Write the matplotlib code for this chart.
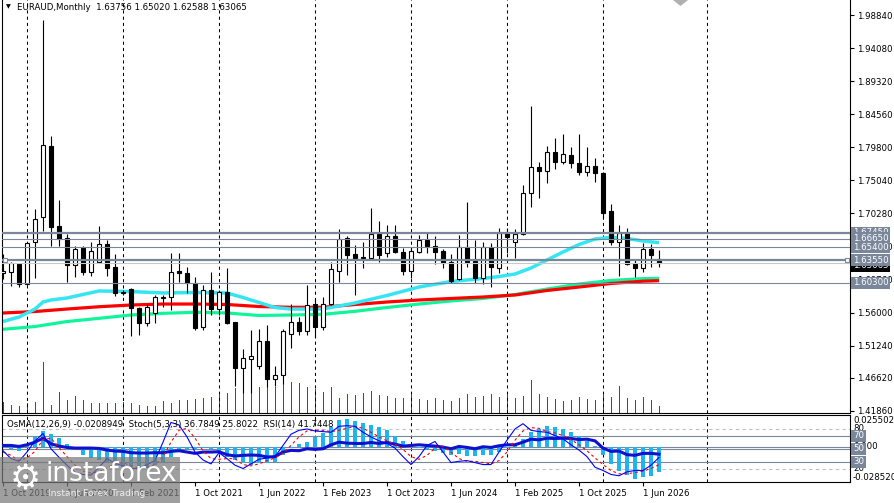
import matplotlib
matplotlib.use("Agg")
import matplotlib.pyplot as plt
import numpy as np
from matplotlib.patches import Rectangle, Polygon
from matplotlib.transforms import blended_transform_factory as btf

plt.rcParams['font.family'] = ['DejaVu Sans']

# ---------------- data (monthly EURAUD) ----------------
opens = [1.6169, 1.6183, 1.6298, 1.6010, 1.6615, 1.6975, 1.7998, 1.6846, 1.6673, 1.6284,
         1.6529, 1.6183, 1.6327, 1.6586, 1.6255, 1.5895, 1.5938, 1.5665, 1.5449, 1.5593,
         1.5816, 1.5823, 1.6198, 1.6169, 1.6025, 1.5391, 1.5924, 1.5650, 1.5895, 1.5463,
         1.4801, 1.4930, 1.4830, 1.5190, 1.4642, 1.4700, 1.5290, 1.5463, 1.5334, 1.5722,
         1.5391, 1.5722, 1.6198, 1.6673, 1.6442, 1.6399, 1.6385, 1.6730, 1.6457, 1.6701,
         1.6471, 1.6198, 1.6471, 1.6644, 1.6558, 1.6486, 1.6327, 1.6082, 1.6543, 1.6342,
         1.6097, 1.6543, 1.6241, 1.6745, 1.6615, 1.6730, 1.7321, 1.7695, 1.7638, 1.7911,
         1.7767, 1.7868, 1.7753, 1.7623, 1.7710, 1.7609, 1.7062, 1.6615, 1.6745, 1.6313,
         1.6241, 1.6514, 1.63756]
highs = [1.6442, 1.6327, 1.6313, 1.6615, 1.7090, 1.9812, 1.8142, 1.7220, 1.6730, 1.6558,
         1.6558, 1.6615, 1.6846, 1.6644, 1.6442, 1.5924, 1.5953, 1.5679, 1.5722, 1.5852,
         1.5852, 1.6457, 1.6457, 1.6255, 1.6111, 1.5996, 1.6183, 1.5924, 1.6241, 1.5463,
         1.5074, 1.5348, 1.5362, 1.5420, 1.4830, 1.5362, 1.5722, 1.5535, 1.5996, 1.5809,
         1.5823, 1.6327, 1.6802, 1.6702, 1.6572, 1.6615, 1.7105, 1.6918, 1.6860, 1.6860,
         1.6529, 1.6543, 1.6716, 1.6745, 1.6702, 1.6514, 1.6442, 1.6716, 1.7191, 1.6644,
         1.6615, 1.6601, 1.6817, 1.6817, 1.6802, 1.7436, 1.8574, 1.7767, 1.7998, 1.8113,
         1.8170, 1.7983, 1.8170, 1.7983, 1.7825, 1.7623, 1.7162, 1.6860, 1.6817, 1.6356,
         1.6601, 1.6586, 1.65020]
lows = [1.6082, 1.5982, 1.5967, 1.5996, 1.6097, 1.6774, 1.6558, 1.6558, 1.6039, 1.6111,
        1.6140, 1.6126, 1.6313, 1.6126, 1.5838, 1.5852, 1.5262, 1.5276, 1.5406, 1.5449,
        1.5679, 1.5636, 1.6039, 1.5881, 1.5348, 1.5348, 1.5564, 1.5564, 1.5434, 1.4542,
        1.4441, 1.4441, 1.4786, 1.4527, 1.4542, 1.4570, 1.5089, 1.5276, 1.5276, 1.5247,
        1.5348, 1.5708, 1.6039, 1.6140, 1.5852, 1.6241, 1.6371, 1.6327, 1.6399, 1.6457,
        1.6140, 1.6097, 1.6457, 1.6457, 1.6298, 1.6241, 1.6025, 1.6068, 1.6255, 1.6025,
        1.6010, 1.5967, 1.6169, 1.6457, 1.6385, 1.6716, 1.7119, 1.7249, 1.7465, 1.7666,
        1.7738, 1.7681, 1.7580, 1.7566, 1.7479, 1.6961, 1.6572, 1.6126, 1.6284, 1.6111,
        1.6183, 1.6255, 1.62588]
closes = [1.6198, 1.6313, 1.6010, 1.6601, 1.6946, 1.8012, 1.6831, 1.6658, 1.6284, 1.6514,
          1.6183, 1.6486, 1.6586, 1.6241, 1.5881, 1.5881, 1.5665, 1.5449, 1.5679, 1.5823,
          1.5823, 1.6183, 1.6169, 1.6025, 1.5377, 1.5924, 1.5650, 1.5895, 1.5449, 1.4801,
          1.4945, 1.4974, 1.5190, 1.4642, 1.4700, 1.5334, 1.5463, 1.5334, 1.5708, 1.5391,
          1.5722, 1.6226, 1.6658, 1.6428, 1.6385, 1.6392, 1.6730, 1.6428, 1.6701, 1.6471,
          1.6198, 1.6486, 1.6644, 1.6558, 1.6471, 1.6313, 1.6054, 1.6543, 1.6327, 1.6097,
          1.6543, 1.6255, 1.6745, 1.6687, 1.6730, 1.7321, 1.7695, 1.7638, 1.7911, 1.7767,
          1.7882, 1.7753, 1.7623, 1.7710, 1.7609, 1.7033, 1.6615, 1.6745, 1.6298, 1.6241,
          1.6514, 1.6428, 1.63065]
volumes = [11300, 8000, 7000, 10300, 11300, 51300, 8000, 21300, 13000, 17000,
           13000, 10300, 10300, 10300, 10300, 11300, 9700, 8000, 7000, 7000,
           12000, 10300, 13000, 13000, 13700, 14700, 15700, 18000, 19700, 24700,
           23000, 28000, 26300, 26300, 25700, 30000, 31300, 30300, 25700, 23700,
           21300, 25700, 15300, 19000, 18000, 20300, 22300, 18000, 17300, 15300,
           15300, 18000, 14000, 13000, 15300, 13000, 12000, 15300, 19000, 16300,
           17000, 19000, 16300, 18000, 14700, 17000, 33000, 19000, 16300, 13700,
           12000, 13000, 15700, 13700, 13000, 18000, 16300, 27000, 14700, 13000,
           16300, 13000, 7000]

# moving averages (sampled from the chart)
cyan_idx = [0, 2, 4, 5, 6, 8, 12, 16, 20, 24, 28, 30, 32, 34, 36, 40, 42, 44, 48, 52,
            56, 60, 62, 64, 66, 68, 70, 72, 74, 76, 78, 80, 82]
cyan_val = [1.5470, 1.5535, 1.5650, 1.5751, 1.5780, 1.5809, 1.5910, 1.5902, 1.5881, 1.5888,
            1.5881, 1.5816, 1.5744, 1.5672, 1.5650, 1.5650, 1.5694, 1.5737, 1.5845, 1.5967,
            1.6046, 1.6090, 1.6118, 1.6154, 1.6241, 1.6356, 1.6471, 1.6579, 1.6658, 1.6683,
            1.6666, 1.6630, 1.6605]
ma_idx = [0, 4, 8, 12, 16, 20, 24, 28, 32, 36, 40, 44, 48, 52, 56, 60, 64, 68, 72, 76, 80, 82]
red_val = [1.5593, 1.5614, 1.5650, 1.5683, 1.5708, 1.5722, 1.5722, 1.5715, 1.5686, 1.5675,
           1.5675, 1.5715, 1.5751, 1.5780, 1.5802, 1.5823, 1.5852, 1.5917, 1.5967, 1.6018,
           1.6051, 1.6058]
green_val = [1.5358, 1.5398, 1.5470, 1.5516, 1.5564, 1.5588, 1.5603, 1.5593, 1.5557, 1.5564,
             1.5574, 1.5617, 1.5672, 1.5722, 1.5766, 1.5802, 1.5859, 1.5938, 1.6010, 1.6061,
             1.6088, 1.6092]

# oscillators
osma = [-0.001, -0.002, -0.003, 0.002, 0.008, 0.0128, 0.0108, 0.0073, 0.002, -0.001,
        -0.0066, -0.0094, -0.0107, -0.0124, -0.0148, -0.0164, -0.0172, -0.018, -0.0177, -0.0148,
        -0.0124, -0.0083, -0.0042, -0.002, -0.0015, -0.001, -0.002, -0.003, -0.0083, -0.011,
        -0.0135, -0.0145, -0.013, -0.013, -0.012, -0.0066, -0.0005, 0.002, 0.0043, 0.0084,
        0.011, 0.0165, 0.0221, 0.023, 0.021, 0.0195, 0.0183, 0.0163, 0.0137, 0.009,
        0.0047, 0.0013, -0.0005, -0.0015, -0.003, -0.005, -0.0068, -0.0055, -0.0072, -0.0078,
        -0.0065, -0.0065, -0.0038, -0.001, 0.0015, 0.0066, 0.0121, 0.0144, 0.0171, 0.0166,
        0.0147, 0.012, 0.0086, 0.0048, 0.001, -0.0066, -0.014, -0.020, -0.023, -0.026,
        -0.025, -0.0235, -0.0208949]
stoch_main = [47, 35, 31, 45, 62, 73, 50, 37, 25, 14,
              11, 10, 22, 35, 28, 24, 20, 20, 26, 32,
              60, 90, 86, 68, 45, 33, 27, 44, 35, 25,
              20, 27, 34, 36, 38, 55, 72, 78, 80, 77,
              76, 75, 84, 85, 84, 75, 68, 62, 58, 51,
              38, 26, 38, 55, 61, 45, 29, 31, 32, 29,
              26, 26, 45, 63, 80, 88, 78, 76, 75, 70,
              65, 56, 48, 38, 22, 17, 11, 9, 15, 17,
              17, 25, 36.7849]
stoch_signal = [45, 40, 32, 36, 46, 64, 66, 52, 38, 25,
                16, 13, 15, 21, 27, 29, 24, 21, 22, 26,
                38, 60, 78, 81, 66, 47, 35, 34, 35, 35,
                26, 24, 27, 32, 36, 43, 55, 68, 77, 78,
                78, 76, 78, 81, 84, 81, 75, 68, 62, 57,
                49, 38, 34, 40, 51, 54, 45, 35, 31, 31,
                29, 27, 32, 45, 63, 77, 82, 81, 76, 74,
                70, 64, 56, 47, 36, 26, 17, 12, 12, 14,
                16, 20, 25.8022]
rsi = [55, 55, 53.5, 56, 60, 66, 57.5, 54, 52, 51,
       51, 51, 50.5, 48, 46.5, 46, 44, 43.5, 43.5, 44,
       44, 46, 47, 45, 43, 45, 45, 45.5, 41, 39,
       40, 40.5, 40, 37.5, 38, 45, 47.5, 47, 50, 49,
       50, 56, 60, 58.5, 58, 58, 59.5, 58, 59.5, 57,
       54, 55, 56, 55, 54, 52.5, 50, 53.5, 52, 50,
       53, 52, 54.5, 56, 56, 60, 64.5, 63.5, 66, 65.5,
       66, 65.5, 64, 64.5, 62, 51, 46, 46.5, 41, 40,
       43, 43, 41.7448]

# horizontal levels and axis text
level_prices = [1.67450, 1.66650, 1.65400, 1.63550, 1.60300]
level_thick = [True, False, False, True, False]
price_ticks = [1.98840, 1.94080, 1.89320, 1.84560, 1.79800, 1.75040, 1.70280,
               1.65520, 1.60760, 1.56000, 1.51240, 1.46620, 1.41860]
date_idx = [0, 8, 16, 24, 32, 40, 48, 56, 64, 72, 80]
date_lbl = ["1 Oct 2019", "1 Jun 2020", "1 Feb 2021", "1 Oct 2021", "1 Jun 2022",
            "1 Feb 2023", "1 Oct 2023", "1 Jun 2024", "1 Feb 2025", "1 Oct 2025", "1 Jun 2026"]
year_sep_idx = [3, 15, 27, 39, 51, 63, 75, 88]

# ---------------- figure ----------------
W, H = 894, 503
fig = plt.figure(figsize=(W / 100, H / 100), dpi=100)
fig.patch.set_facecolor('white')


def rect(l, t, r, b):
    return [l / W, 1 - b / H, (r - l) / W, (b - t) / H]


main_r = rect(2, 0, 850, 413)
ind_r = rect(2, 415, 850, 482)
XL = (-0.125, 105.875)

axv = fig.add_axes(main_r)
ax = fig.add_axes(main_r)
axo = fig.add_axes(ind_r)
axi = fig.add_axes(ind_r)

for a in (axv, ax, axo, axi):
    a.set_xlim(*XL)
ax.set_ylim(1.41528, 2.0100)
axv.set_ylim(0, 413000)
axi.set_ylim(-0.46, 101.2)
axo.set_ylim(-0.02878, 0.02616)

ax.set_facecolor('none')
axi.set_facecolor('none')
axv.set_facecolor('white')
axo.set_facecolor('white')

for a in (axv, axo):
    a.set_xticks([]); a.set_yticks([])
    for s in a.spines.values():
        s.set_visible(False)

for a in (ax, axi):
    for s in a.spines.values():
        s.set_color('black'); s.set_linewidth(0.8)
ax.spines['top'].set_visible(False)

idx = np.arange(len(opens))
o = np.array(opens); c = np.array(closes)
hi = np.array(highs); lo = np.array(lows)

# volumes
axv.vlines(idx, 0, volumes, color='#008000', lw=0.55, antialiased=False)

# year separators
for s in year_sep_idx:
    ax.axvline(s, color='black', lw=0.75, ls=(0, (3, 3)), zorder=1)
    axo.axvline(s, color='black', lw=0.75, ls=(0, (3, 3)), zorder=1)

# moving averages
ax.plot(ma_idx, green_val, color='#10F59C', lw=2.3, zorder=2, solid_capstyle='butt')
ax.plot(ma_idx, red_val, color='#FF0000', lw=2.3, zorder=2.1, solid_capstyle='butt')
ax.plot(cyan_idx, cyan_val, color='#35E6F2', lw=2.5, zorder=2.2, solid_capstyle='butt')

# candles
ax.vlines(idx, lo, hi, color='black', lw=0.8, zorder=3)
up = c >= o
bottom = np.minimum(o, c)
height = np.maximum(np.abs(c - o), 0.0004)
ax.bar(idx, height, bottom=bottom, width=0.52, color=np.where(up, 'white', 'black'),
       edgecolor='black', linewidth=0.8, zorder=4)

# horizontal levels
for p, th in zip(level_prices, level_thick):
    ax.axhline(p, color='#7A8699', lw=1.6 if th else 0.8, zorder=5)
ax.axhline(closes[-1], color='#C8C8C8', lw=0.8, zorder=4.5)
ax.plot([0.003, 0.997], [level_prices[3]] * 2, transform=btf(ax.transAxes, ax.transData),
        marker='s', ms=3.4, mfc='white', mec='#7A8699', mew=0.8, ls='none', clip_on=False, zorder=6)

# y axis ticks
ax.yaxis.tick_right()
ax.set_yticks(price_ticks)
ax.set_yticklabels([f"{t:.5f}" for t in price_ticks])
ax.tick_params(axis='y', length=3, width=0.8, labelsize=6.2, pad=2, direction='out')
ax.tick_params(axis='x', bottom=False, labelbottom=False)

# indicator window
tr_lvl = btf(axo.transAxes, axi.transData)
for v in (80, 20):
    axo.plot([0, 1], [v, v], transform=tr_lvl, color='#C0C0C0', lw=0.8, ls=(0, (3, 3)), zorder=1)
for v in (70, 50, 30):
    axo.plot([0, 1], [v, v], transform=tr_lvl, color='#7A8699', lw=0.8, zorder=1)
axo.axhline(0, color='#7A8699', lw=0.8, zorder=1)
axo.bar(idx, osma, width=0.38, color='#1EB4F0', zorder=2)

axi.plot(idx, rsi, color='#1010D0', lw=2.2, zorder=3)
axi.plot(idx, stoch_signal, color='#FF0000', lw=0.8, ls=(0, (2.5, 2.5)), zorder=3)
axi.plot(idx, stoch_main, color='#0000FF', lw=0.8, zorder=3.1)

axi.tick_params(axis='y', left=False, right=False, labelleft=False)
axi.set_xticks(date_idx)
axi.set_xticklabels(date_lbl, ha='left', fontsize=6.2)
axi.tick_params(axis='x', length=3, width=0.8, pad=2, direction='out')

# ---------------- right side labels ----------------
X_LBL = 853 / W
tr_main = btf(fig.transFigure, ax.transData)
box = dict(boxstyle='square,pad=0.18', fc='#7A8699', ec='none')
lvl_z = [6, 7, 8, 10, 11]
for p, z in zip(level_prices, lvl_z):
    fig.text(X_LBL, p, f"{p:.5f}", transform=tr_main, va='center', ha='left',
             fontsize=6.2, color='white', bbox=box, zorder=z)
fig.text(X_LBL, closes[-1] - 0.0035, f"{closes[-1]:.5f}", transform=tr_main, va='center', ha='left',
         fontsize=6.2, color='white', bbox=dict(boxstyle='square,pad=0.18', fc='black', ec='none'), zorder=9)

tr_i = btf(fig.transFigure, axi.transData)
tr_o = btf(fig.transFigure, axo.transData)
fig.text(X_LBL, 0.0255025, "0.0255025", transform=tr_o, va='top', ha='left', fontsize=6.2, zorder=5)
fig.text(X_LBL, -0.028520, "-0.028520", transform=tr_o, va='bottom', ha='left', fontsize=6.2, zorder=5)
fig.text(X_LBL, 80, "80", transform=tr_i, va='center', ha='left', fontsize=6.2, zorder=5)
fig.text(X_LBL, 20, "20", transform=tr_i, va='center', ha='left', fontsize=6.2, zorder=5)
fig.text(X_LBL, 0.0, "0.000", transform=tr_o, va='center', ha='left', fontsize=6.2, zorder=5)
for v, z in ((70, 6), (50, 7), (30, 8)):
    fig.text(X_LBL, v, str(v), transform=tr_i, va='center', ha='left', fontsize=6.2,
             color='white', bbox=box, zorder=z)

# ---------------- titles ----------------
fig.text(6 / W, 1 - 7 / H, "\u25BC", fontsize=4.5, va='center', ha='left')
fig.text(17 / W, 1 - 7 / H, "EURAUD,Monthly  1.63756 1.65020 1.62588 1.63065",
         fontsize=6.2, va='center', ha='left')
fig.text(7 / W, 1 - 425 / H,
         "OsMA(12,26,9) -0.0208949  Stoch(5,3,3) 36.7849 25.8022  RSI(14) 41.7448",
         fontsize=6.2, va='center', ha='left', zorder=5)

# chart shift marker
fig.patches.append(Polygon([(673 / W, 1.0), (688 / W, 1.0), (680.5 / W, 1 - 6 / H)],
                           closed=True, transform=fig.transFigure, fc='#B0B0B0', ec='none', zorder=5))

# ---------------- watermark ----------------
fig.patches.append(Rectangle((0, 0), 180 / W, 46 / H, transform=fig.transFigure,
                             fc='#7A7A7A', ec='none', alpha=0.72, zorder=20))
fig.text(25 / W, 1 - 479 / H, "\u2699", fontsize=25, color='white', va='center', ha='center', zorder=21)
fig.text(46 / W, 1 - 474 / H, "instaforex", fontsize=19, color='white', va='center', ha='left', zorder=21)
fig.text(48 / W, 1 - 494 / H, "Instant Forex Trading", fontsize=6.7, color='#EEEEEE',
         va='center', ha='left', zorder=21)

fig.savefig("out.png", dpi=100)
